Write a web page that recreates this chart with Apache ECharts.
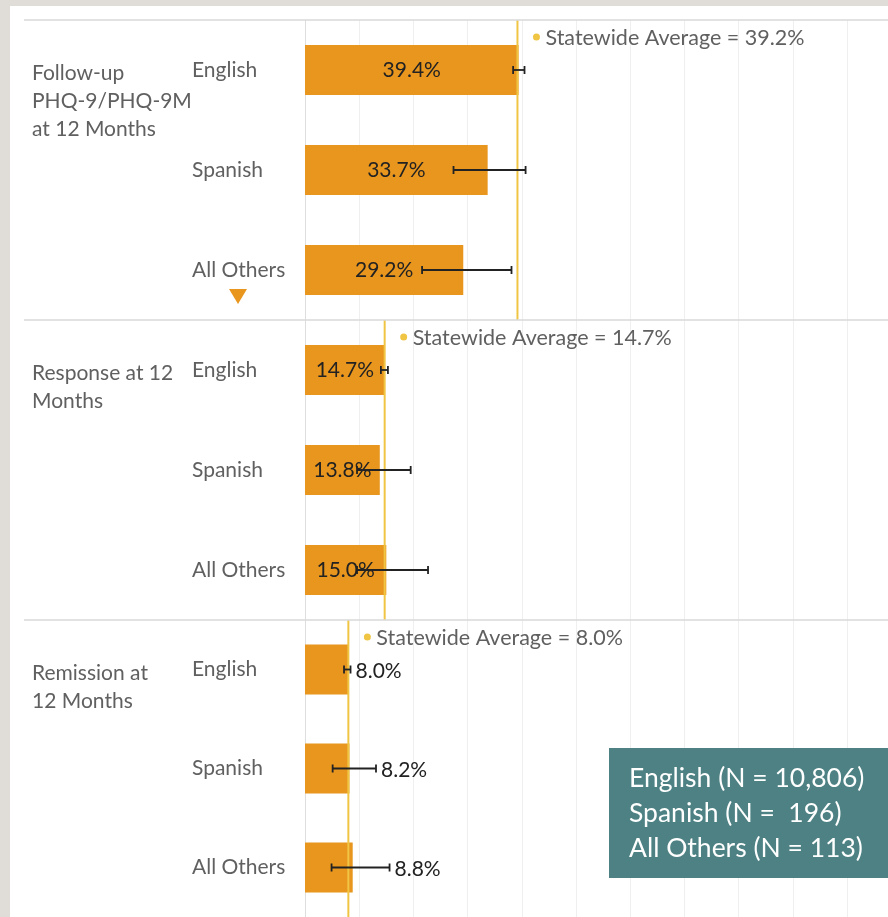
<!DOCTYPE html>
<html>
<head>
<meta charset="utf-8">
<script src="https://cdn.jsdelivr.net/npm/echarts@6/dist/echarts.min.js"></script>
<style>
  html, body { margin: 0; padding: 0; background: #e0ddd9; width: 888px; height: 917px; overflow: hidden; }
  #chart { position: absolute; left: 10px; top: 6px; width: 878px; height: 911px; background: #fff; }
</style>
</head>
<body>
<div id="chart"></div>
<script>
// ---- data ----
const groupLabels = ['Follow-up\nPHQ-9/PHQ-9M\nat 12 Months', 'Response at 12\nMonths', 'Remission at\n12 Months'];
const languages = ['English', 'Spanish', 'All Others'];
const followUpValues = [39.4, 33.7, 29.2];
const followUpLow = [38.4, 27.4, 21.6];
const followUpHigh = [40.5, 40.7, 38.1];
const responseValues = [14.7, 13.8, 15.0];
const responseLow = [14.0, 9.6, 9.6];
const responseHigh = [15.3, 19.5, 22.7];
const remissionValues = [8.0, 8.2, 8.8];
const remissionLow = [7.2, 5.1, 4.9];
const remissionHigh = [8.4, 13.1, 15.6];
const statewideAverages = [39.2, 14.7, 8.0];
const sampleSizeLines = ['English (N = 10,806)', 'Spanish (N =  196)', 'All Others (N = 113)'];
const xTicks = { min: 0, max: 100, interval: 10 };

const FONT = 'Lato, "Noto Sans", sans-serif';
const BAR = '#E8961E';
const AVG = '#F0C544';
const GRAY = '#606060';

const panels = [
  { values: followUpValues, low: followUpLow, high: followUpHigh, labelOutside: false },
  { values: responseValues, low: responseLow, high: responseHigh, labelOutside: false },
  { values: remissionValues, low: remissionLow, high: remissionHigh, labelOutside: true }
];

const panelTop = [14, 314, 614];
const grids = [], xAxes = [], yAxes = [], series = [];

panels.forEach((p, i) => {
  grids.push({ left: 295, right: 41, top: panelTop[i], height: 300 });
  xAxes.push({
    type: 'value', gridIndex: i, min: xTicks.min, max: xTicks.max, interval: xTicks.interval,
    axisLabel: { show: false }, axisLine: { show: false }, axisTick: { show: false },
    splitLine: { show: true, lineStyle: { color: '#efefef', width: 1 } }
  });
  yAxes.push({
    type: 'category', gridIndex: i, data: languages, inverse: true,
    axisTick: { show: false },
    axisLine: { show: true, lineStyle: { color: '#dedede', width: 1 } },
    axisLabel: { align: 'left', margin: 113, color: GRAY, fontSize: 21, fontFamily: FONT, padding: [4, 0, 0, 0] }
  });
  series.push({
    type: 'bar', xAxisIndex: i, yAxisIndex: i, data: p.values, barWidth: 50,
    itemStyle: { color: BAR }, z: 2,
    label: {
      show: !p.labelOutside, position: 'inside', color: '#222', fontSize: 21, fontFamily: FONT,
      padding: [3, 0, 0, 0],
      formatter: (d) => d.value.toFixed(1) + '%'
    }
  });
  series.push({
    type: 'custom', xAxisIndex: i, yAxisIndex: i, z: 3,
    data: [[statewideAverages[i]]],
    encode: { x: 0 },
    renderItem: (params, api) => {
      const cs = params.coordSys;
      const x = api.coord([api.value(0), 0])[0];
      return {
        type: 'group',
        children: [
          { type: 'line', shape: { x1: x, y1: cs.y, x2: x, y2: cs.y + cs.height }, style: { stroke: AVG, lineWidth: 2 } },
          { type: 'circle', shape: { cx: x + 19, cy: cs.y + 17, r: 3.5 }, style: { fill: AVG } },
          { type: 'text', x: x + 28, y: cs.y + 18, style: {
              text: 'Statewide Average = ' + api.value(0).toFixed(1) + '%',
              fill: GRAY, font: '21.5px ' + FONT, verticalAlign: 'middle', align: 'left' } }
        ]
      };
    }
  });
  series.push({
    type: 'custom', xAxisIndex: i, yAxisIndex: i, z: 4,
    data: p.values.map((v, k) => [v, p.low[k], p.high[k], k]),
    encode: { x: [1, 2], y: 3 },
    renderItem: (params, api) => {
      const lo = api.coord([api.value(1), api.value(3)]);
      const hi = api.coord([api.value(2), api.value(3)]);
      const c = 4;
      const children = [
        { type: 'line', shape: { x1: lo[0], y1: lo[1], x2: hi[0], y2: hi[1] }, style: { stroke: '#222', lineWidth: 1.8 } },
        { type: 'line', shape: { x1: lo[0], y1: lo[1] - c, x2: lo[0], y2: lo[1] + c }, style: { stroke: '#222', lineWidth: 1.8 } },
        { type: 'line', shape: { x1: hi[0], y1: hi[1] - c, x2: hi[0], y2: hi[1] + c }, style: { stroke: '#222', lineWidth: 1.8 } }
      ];
      if (p.labelOutside) {
        children.push({ type: 'text', x: hi[0] + 5, y: hi[1] + 1.5, style: {
          text: api.value(0).toFixed(1) + '%', fill: '#222', font: '21px ' + FONT,
          verticalAlign: 'middle', align: 'left' } });
      }
      return { type: 'group', children };
    }
  });
});

const graphic = [];
panelTop.forEach((t) => {
  graphic.push({ type: 'line', shape: { x1: 14, y1: t, x2: 878, y2: t }, style: { stroke: '#d9d9d9', lineWidth: 1.5 }, z: 10 });
});
groupLabels.forEach((g, i) => {
  graphic.push({ type: 'text', left: 22, top: panelTop[i] + 39, style: {
    text: g, fill: GRAY, font: '21px ' + FONT, lineHeight: 28 }, z: 10 });
});
graphic.push({ type: 'polygon', shape: { points: [[219, 283], [237, 283], [228, 298]] }, style: { fill: BAR }, z: 10 });
graphic.push({ type: 'rect', shape: { x: 599, y: 742, width: 279, height: 130 }, style: { fill: '#4d8183' }, z: 20 });
graphic.push({ type: 'text', left: 619, top: 755, style: {
  text: sampleSizeLines.join('\n'), fill: '#ffffff', font: '26.5px ' + FONT, lineHeight: 35 }, z: 21 });

const chart = echarts.init(document.getElementById('chart'), null, { renderer: 'canvas' });
chart.setOption({
  backgroundColor: '#ffffff',
  animation: false,
  grid: grids, xAxis: xAxes, yAxis: yAxes, series, graphic
});
</script>
</body>
</html>
